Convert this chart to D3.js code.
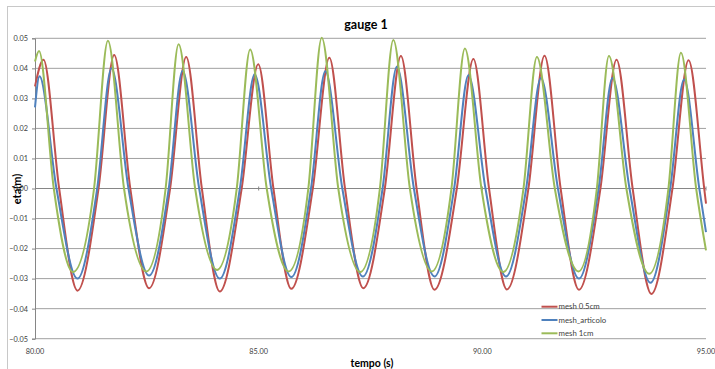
<!DOCTYPE html>
<html>
<head>
<meta charset="utf-8">
<script src="https://cdn.jsdelivr.net/npm/d3@7"></script>
<style>
  html, body { margin: 0; padding: 0; background: #fff; }
  svg { display: block; }
  text { font-family: Lato, "Open Sans", "Liberation Sans", sans-serif; }
</style>
</head>
<body>
<svg id="chart" width="715" height="369"></svg>
<script>
// Wave elevation at gauge 1: crests, troughs and zero crossings [time s, eta m]
const meshHalfCm = [
  [80.00, 0.0340], [80.19, 0.0429], [80.54, 0], [80.95, -0.0340], [81.42, 0],
  [81.77, 0.0444], [82.13, 0], [82.55, -0.0332], [83.02, 0],
  [83.38, 0.0438], [83.73, 0], [84.13, -0.0343], [84.62, 0],
  [84.99, 0.0414], [85.33, 0], [85.73, -0.0334], [86.21, 0],
  [86.58, 0.0435], [86.93, 0], [87.34, -0.0332], [87.82, 0],
  [88.18, 0.0441], [88.53, 0], [88.93, -0.0337], [89.43, 0],
  [89.80, 0.0431], [90.15, 0], [90.55, -0.0336], [91.03, 0],
  [91.39, 0.0442], [91.75, 0], [92.16, -0.0337], [92.64, 0],
  [93.00, 0.0429], [93.36, 0], [93.78, -0.0351], [94.25, 0],
  [94.61, 0.0427], [94.96, 0], [95.00, -0.0050]
];
const meshArticolo = [
  [80.00, 0.0270], [80.10, 0.0374], [80.48, 0], [80.95, -0.0300], [81.39, 0],
  [81.71, 0.0400], [82.09, 0], [82.55, -0.0290], [82.99, 0],
  [83.30, 0.0392], [83.67, 0], [84.13, -0.0300], [84.58, 0],
  [84.91, 0.0380], [85.28, 0], [85.73, -0.0295], [86.17, 0],
  [86.49, 0.0390], [86.87, 0], [87.33, -0.0293], [87.77, 0],
  [88.09, 0.0405], [88.47, 0], [88.93, -0.0293], [89.37, 0],
  [89.69, 0.0377], [90.07, 0], [90.53, -0.0293], [90.98, 0],
  [91.31, 0.0368], [91.69, 0], [92.16, -0.0300], [92.60, 0],
  [92.91, 0.0368], [93.29, 0], [93.76, -0.0314], [94.20, 0],
  [94.51, 0.0363], [94.85, 0], [95.00, -0.0145]
];
const mesh1cm = [
  [80.00, 0.0423], [80.09, 0.0458], [80.42, 0], [80.85, -0.0278], [81.32, 0],
  [81.63, 0.0492], [81.99, 0], [82.49, -0.0276], [82.92, 0],
  [83.21, 0.0480], [83.58, 0], [84.07, -0.0271], [84.51, 0],
  [84.81, 0.0463], [85.18, 0], [85.67, -0.0276], [86.11, 0],
  [86.41, 0.0502], [86.78, 0], [87.27, -0.0278], [87.71, 0],
  [88.01, 0.0494], [88.38, 0], [88.87, -0.0276], [89.31, 0],
  [89.61, 0.0466], [89.98, 0], [90.47, -0.0278], [90.92, 0],
  [91.22, 0.0438], [91.62, 0], [92.15, -0.0276], [92.56, 0],
  [92.83, 0.0441], [93.22, 0], [93.73, -0.0284], [94.16, 0],
  [94.44, 0.0452], [94.78, 0], [95.00, -0.0206]
];

const seriesNames = ["mesh 0.5cm", "mesh_articolo", "mesh 1cm"];
const seriesColors = ["#C0504D", "#4F81BD", "#9BBB59"];
const yTicks = [-0.05, -0.04, -0.03, -0.02, -0.01, 0, 0.01, 0.02, 0.03, 0.04, 0.05];
const xTicks = [80, 85, 90, 95];

const svg = d3.select("#chart");

// outer chart frame
svg.append("rect")
  .attr("x", 7.5).attr("y", 6.5).attr("width", 720).attr("height", 380)
  .attr("fill", "none").attr("stroke", "#c8c8c8").attr("stroke-width", 1);

const x = d3.scaleLinear().domain([80, 95]).range([35, 706]);
const y = d3.scaleLinear().domain([-0.05, 0.05]).range([338.7, 38.3]);

// horizontal gridlines
svg.append("g")
  .selectAll("line").data(yTicks.filter(v => v !== 0)).join("line")
  .attr("x1", x(80)).attr("x2", x(95))
  .attr("y1", d => y(d)).attr("y2", d => y(d))
  .attr("stroke", "#a0a0a0").attr("stroke-width", 1);

// value axis on the left
const yAxis = d3.axisLeft(y).tickValues(yTicks).tickSize(3).tickPadding(4)
  .tickFormat(d3.format(".2f"));
const gy = svg.append("g").attr("transform", `translate(${x(80)},0)`).call(yAxis);
gy.select(".domain").attr("stroke", "#868686");
gy.selectAll(".tick line").attr("stroke", "#868686");
gy.selectAll(".tick text").attr("fill", "#404040")
  .style("font-size", "7.3px").style("font-family", "Lato, sans-serif");

// time axis line through zero, labels along the bottom
svg.append("line")
  .attr("x1", x(80)).attr("x2", x(95)).attr("y1", y(0)).attr("y2", y(0))
  .attr("stroke", "#868686").attr("stroke-width", 1);
svg.append("g").selectAll("line").data(xTicks.slice(1)).join("line")
  .attr("x1", d => x(d)).attr("x2", d => x(d))
  .attr("y1", y(0) - 2).attr("y2", y(0) + 2)
  .attr("stroke", "#868686");
svg.append("g").selectAll("text").data(xTicks).join("text")
  .attr("x", d => x(d)).attr("y", 354)
  .attr("text-anchor", "middle")
  .attr("fill", "#404040").style("font-size", "7.3px")
  .text(d => d3.format(".2f")(d));

// series
const line = d3.line()
  .x(d => x(d[0])).y(d => y(d[1]))
  .curve(d3.curveMonotoneX);
[meshHalfCm, meshArticolo, mesh1cm].forEach((s, i) => {
  svg.append("path").datum(s)
    .attr("d", line)
    .attr("fill", "none")
    .attr("stroke", seriesColors[i])
    .attr("stroke-width", 2)
    .attr("stroke-linejoin", "round");
});

// titles
svg.append("text").attr("x", 366).attr("y", 29)
  .attr("text-anchor", "middle").style("font-size", "12.5px").style("font-weight", "bold")
  .attr("fill", "#000").text("gauge 1");
svg.append("text").attr("x", 372).attr("y", 367)
  .attr("text-anchor", "middle").style("font-size", "10.5px").style("font-weight", "bold")
  .attr("fill", "#000").text("tempo (s)");
svg.append("text")
  .attr("transform", `translate(20.5,189) rotate(-90)`)
  .attr("text-anchor", "middle").style("font-size", "11px").style("font-weight", "bold")
  .attr("fill", "#000").text("eta(m)");

// legend
const legend = svg.append("g");
seriesNames.forEach((name, i) => {
  const ly = 306.7 + i * 13.3;
  legend.append("line")
    .attr("x1", 541.5).attr("x2", 557.5).attr("y1", ly).attr("y2", ly)
    .attr("stroke", seriesColors[i]).attr("stroke-width", 2);
  legend.append("text").attr("x", 558.5).attr("y", ly + 2.6)
    .attr("fill", "#404040").style("font-size", "7.8px").text(name);
});
</script>
</body>
</html>
